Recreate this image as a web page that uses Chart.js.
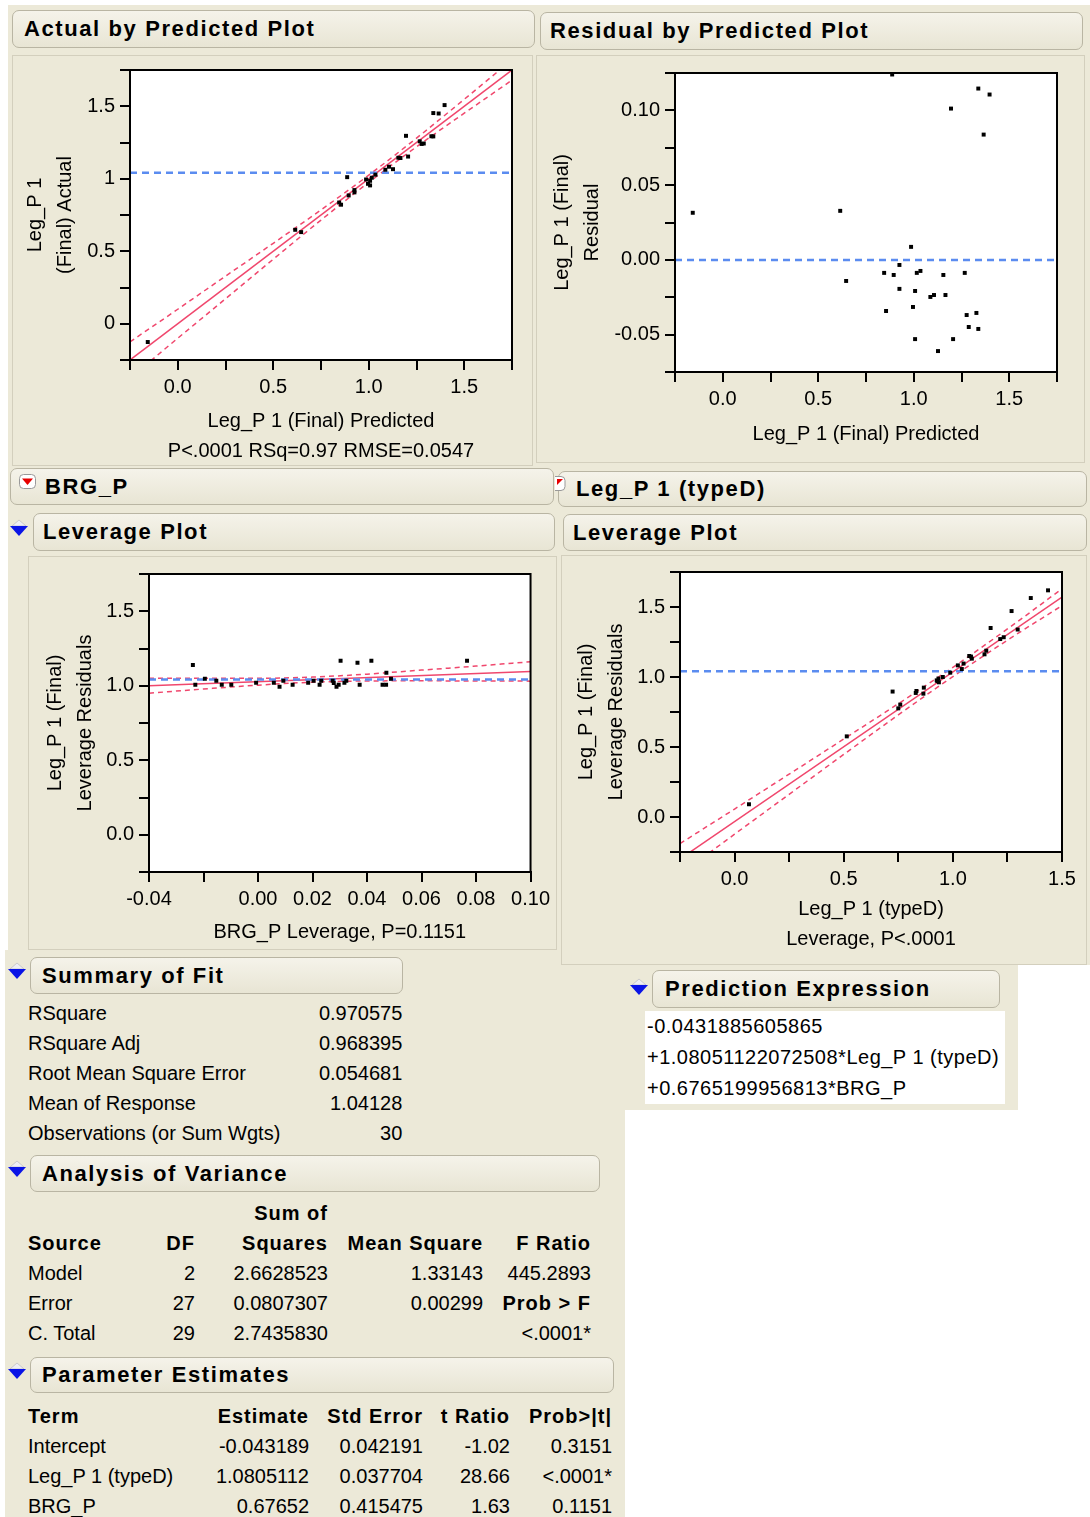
<!DOCTYPE html>
<html>
<head>
<meta charset="utf-8">
<script src="https://cdn.jsdelivr.net/npm/chart.js@4.4.1/dist/chart.umd.min.js"></script>
<style>
  body { margin: 0; width: 1090px; height: 1517px; background: #fff; position: relative; overflow: hidden;
         font-family: "Liberation Sans", Arial, sans-serif; color: #000; }
  .bg { position: absolute; background: #ece9d8; }
  .frame { position: absolute; box-sizing: border-box; border: 1px solid #d3cfbd; background: #ece9d8; }
  .hdr { position: absolute; box-sizing: border-box; border: 1px solid #b9b5a3; border-radius: 7px;
         background: linear-gradient(#f5f3ea, #e8e5d4); font-weight: bold; font-size: 22px; letter-spacing: 1.6px;
         white-space: nowrap; overflow: hidden; }
  .hdr span { position: absolute; top: 50%; transform: translateY(-50%); }
  .ico { position: absolute; }
  canvas { position: absolute; }
  table { position: absolute; border-collapse: collapse; font-size: 20px; table-layout: fixed; }
  td { height: 30px; padding: 0; white-space: nowrap; text-align: right; }
  td.l { text-align: left; }
  tr.b td, td.b { font-weight: bold; letter-spacing: 1px; }
  .expr { position: absolute; left: 645px; top: 1011px; width: 360px; height: 93px; background: #fff;
          font-size: 20px; line-height: 31px; white-space: nowrap; letter-spacing: 0.5px; }
  .expr div { padding-left: 2px; }
</style>
</head>
<body>

<div class="bg" style="left:8px; top:5px; width:1082px; height:960px"></div>
<div class="bg" style="left:5px; top:950px; width:620px; height:567px"></div>
<div class="bg" style="left:625px; top:965px; width:393px; height:145px"></div>

<div class="frame" style="left:12px; top:55px; width:521px; height:411px"></div>
<div class="frame" style="left:536px; top:55px; width:549px; height:408px"></div>
<div class="frame" style="left:28px; top:556px; width:529px; height:394px"></div>
<div class="frame" style="left:561px; top:555px; width:526px; height:410px"></div>

<div class="hdr" style="left:12px; top:10px; width:523px; height:38px"><span style="left:11px">Actual by Predicted Plot</span></div>
<div class="hdr" style="left:540px; top:12px; width:543px; height:38px"><span style="left:9px">Residual by Predicted Plot</span></div>
<div class="hdr" style="left:10px; top:468px; width:544px; height:37px"><span style="left:34px">BRG_P</span></div>
<div class="hdr" style="left:558px; top:471px; width:529px; height:36px"><span style="left:17px">Leg_P 1 (typeD)</span></div>
<div class="hdr" style="left:33px; top:513px; width:522px; height:38px"><span style="left:9px">Leverage Plot</span></div>
<div class="hdr" style="left:563px; top:514px; width:524px; height:37px"><span style="left:9px">Leverage Plot</span></div>
<div class="hdr" style="left:30px; top:957px; width:373px; height:37px"><span style="left:11px">Summary of Fit</span></div>
<div class="hdr" style="left:652px; top:970px; width:348px; height:38px"><span style="left:12px">Prediction Expression</span></div>
<div class="hdr" style="left:30px; top:1155px; width:570px; height:37px"><span style="left:11px">Analysis of Variance</span></div>
<div class="hdr" style="left:30px; top:1357px; width:584px; height:36px"><span style="left:11px">Parameter Estimates</span></div>

<!-- disclosure icons -->
<svg class="ico" style="left:19px; top:474px" width="18" height="16"><rect x="0.5" y="0.5" width="16" height="14" rx="4" fill="#fff" stroke="#999"/><path d="M3 4.5 H14 L8.5 11Z" fill="#e80000"/></svg>
<svg class="ico" style="left:555px; top:476px" width="12" height="16"><rect x="-6" y="0.5" width="16" height="14" rx="4" fill="#fff" stroke="#999"/><path d="M2 3 H8 L2 9Z" fill="#e80000"/></svg>
<svg class="ico" style="left:9px; top:518px" width="20" height="20"><path d="M10 2 L17 8 H3Z" fill="#eeeef4" stroke="#b0b0b8" stroke-width="0.6"/><path d="M1 8 H19 L10 18Z" fill="#0a14e6"/></svg>
<svg class="ico" style="left:7px; top:961px" width="20" height="20"><path d="M10 2 L17 8 H3Z" fill="#eeeef4" stroke="#b0b0b8" stroke-width="0.6"/><path d="M1 8 H19 L10 18Z" fill="#0a14e6"/></svg>
<svg class="ico" style="left:629px; top:977px" width="20" height="20"><path d="M10 2 L17 8 H3Z" fill="#eeeef4" stroke="#b0b0b8" stroke-width="0.6"/><path d="M1 8 H19 L10 18Z" fill="#0a14e6"/></svg>
<svg class="ico" style="left:7px; top:1159px" width="20" height="20"><path d="M10 2 L17 8 H3Z" fill="#eeeef4" stroke="#b0b0b8" stroke-width="0.6"/><path d="M1 8 H19 L10 18Z" fill="#0a14e6"/></svg>
<svg class="ico" style="left:7px; top:1361px" width="20" height="20"><path d="M10 2 L17 8 H3Z" fill="#eeeef4" stroke="#b0b0b8" stroke-width="0.6"/><path d="M1 8 H19 L10 18Z" fill="#0a14e6"/></svg>

<canvas id="actPred" width="517" height="417" style="left:14px; top:53px"></canvas>
<canvas id="residPred" width="540" height="399" style="left:540px; top:56px"></canvas>
<canvas id="brgLev" width="525" height="393" style="left:30px; top:557px"></canvas>
<canvas id="legLev" width="524" height="407" style="left:562px; top:555px"></canvas>

<table style="left:28px; top:998px">
  <col style="width:250px"><col style="width:122px">
  <tr><td class="l">RSquare</td><td>0.970575</td></tr>
  <tr><td class="l">RSquare Adj</td><td>0.968395</td></tr>
  <tr><td class="l">Root Mean Square Error</td><td>0.054681</td></tr>
  <tr><td class="l">Mean of Response</td><td>1.04128</td></tr>
  <tr><td class="l">Observations (or Sum Wgts)</td><td>30</td></tr>
</table>

<div class="expr">
  <div>-0.0431885605865</div>
  <div>+1.08051122072508*Leg_P 1 (typeD)</div>
  <div>+0.6765199956813*BRG_P</div>
</div>

<table style="left:28px; top:1198px">
  <col style="width:122px"><col style="width:45px"><col style="width:133px"><col style="width:155px"><col style="width:108px">
  <tr class="b"><td></td><td></td><td>Sum of</td><td></td><td></td></tr>
  <tr class="b"><td class="l">Source</td><td>DF</td><td>Squares</td><td>Mean Square</td><td>F Ratio</td></tr>
  <tr><td class="l">Model</td><td>2</td><td>2.6628523</td><td>1.33143</td><td>445.2893</td></tr>
  <tr><td class="l">Error</td><td>27</td><td>0.0807307</td><td>0.00299</td><td class="b">Prob &gt; F</td></tr>
  <tr><td class="l">C. Total</td><td>29</td><td>2.7435830</td><td></td><td>&lt;.0001*</td></tr>
</table>

<table style="left:28px; top:1401px">
  <col style="width:172px"><col style="width:109px"><col style="width:114px"><col style="width:87px"><col style="width:102px">
  <tr class="b"><td class="l">Term</td><td>Estimate</td><td>Std Error</td><td>t Ratio</td><td>Prob&gt;|t|</td></tr>
  <tr><td class="l">Intercept</td><td>-0.043189</td><td>0.042191</td><td>-1.02</td><td>0.3151</td></tr>
  <tr><td class="l">Leg_P 1 (typeD)</td><td>1.0805112</td><td>0.037704</td><td>28.66</td><td>&lt;.0001*</td></tr>
  <tr><td class="l">BRG_P</td><td>0.67652</td><td>0.415475</td><td>1.63</td><td>0.1151</td></tr>
</table>

<script>
const FONT = '"Liberation Sans", Arial, sans-serif';
const meanResponse = 1.04128;

// whole-model fit: predicted values and residuals (actual = predicted + residual)
const predicted = [-0.157, 0.615, 0.646, 0.887, 0.845, 0.895, 0.855, 0.925, 0.925, 0.986,
  0.996, 1.007, 1.016, 1.035, 1.007, 1.087, 1.106, 1.127, 1.155, 1.166,
  1.195, 1.206, 1.267, 1.277, 1.288, 1.328, 1.338, 1.338, 1.366, 1.397];
const residual = [0.0315, 0.0328, -0.0141, 0.124, -0.0087, -0.0101, -0.0342, -0.0034, -0.0194, 0.0087,
  -0.0315, -0.0208, -0.0087, -0.0074, -0.053, -0.0248, -0.0235, -0.061, -0.0101, -0.0235,
  0.1012, -0.053, -0.0087, -0.0369, -0.0449, -0.0355, -0.0462, 0.1146, 0.0838, 0.1106];
const actual = [-0.126, 0.648, 0.632, 1.011, 0.836, 0.885, 0.821, 0.922, 0.906, 0.995,
  0.965, 0.986, 1.007, 1.028, 0.954, 1.062, 1.083, 1.066, 1.145, 1.143,
  1.296, 1.153, 1.258, 1.240, 1.243, 1.293, 1.292, 1.453, 1.450, 1.508];

// fit line and confidence curves, actual by predicted
const actFitX = [-0.25, 1.75];
const actFitY = [-0.25, 1.75];
const actCurveX = [-0.25, 0, 0.25, 0.5, 0.75, 1.0, 1.25, 1.5, 1.75];
const actUpper = [-0.125, 0.10, 0.328, 0.555, 0.785, 1.025, 1.28, 1.548, 1.82];
const actLower = [-0.375, -0.10, 0.172, 0.445, 0.715, 0.975, 1.22, 1.452, 1.68];

// BRG_P leverage plot
const brgLevX = [-0.0239, -0.023, -0.0195, -0.0153, -0.0133, -0.0098, -0.0007, 0.0058, 0.0079, 0.0093,
  0.0127, 0.0184, 0.0204, 0.0226, 0.0232, 0.0274, 0.0288, 0.0296, 0.0303, 0.0317,
  0.0324, 0.0365, 0.0373, 0.0416, 0.0457, 0.047, 0.0471, 0.0488, 0.0767, 0.0278];
const brgLevY = [1.139, 1.007, 1.047, 1.034, 1.007, 1.007, 1.020, 1.020, 0.993, 1.034,
  1.007, 1.020, 1.034, 1.007, 1.034, 1.034, 0.993, 1.007, 1.168, 1.020,
  1.034, 1.155, 1.007, 1.168, 1.007, 1.007, 1.087, 1.047, 1.168, 1.018];
const brgFitX = [-0.04, 0.10];
const brgFitY = [1.0, 1.096];
const brgCurveX = [-0.04, -0.02, 0, 0.02, 0.04, 0.06, 0.08, 0.10];
const brgUpper = [1.05, 1.05, 1.05, 1.058, 1.078, 1.105, 1.132, 1.161];
const brgLower = [0.95, 0.978, 1.004, 1.024, 1.032, 1.033, 1.032, 1.031];

// Leg_P 1 (typeD) leverage plot
const legLevX = [0.066, 0.514, 0.724, 0.750, 0.759, 0.830, 0.865, 0.867, 0.926, 0.936,
  0.954, 0.988, 1.023, 1.041, 1.049, 1.075, 1.087, 1.145, 1.153, 1.173,
  1.217, 1.233, 1.269, 1.297, 1.357, 1.436, 0.934, 0.833, 0.929, 1.083];
const legLevY = [0.091, 0.576, 0.896, 0.776, 0.803, 0.886, 0.881, 0.924, 0.976, 0.962,
  1.0, 1.031, 1.083, 1.057, 1.096, 1.150, 1.131, 1.162, 1.188, 1.350,
  1.271, 1.284, 1.471, 1.339, 1.564, 1.619, 0.989, 0.90, 0.971, 1.146];
const legFitX = [-0.25, 1.5];
const legFitY = [-0.30, 1.57];
const legCurveX = [-0.25, 0, 0.25, 0.5, 0.75, 1.0, 1.25, 1.5];
const legUpper = [-0.19, 0.057, 0.306, 0.557, 0.809, 1.069, 1.343, 1.63];
const legLower = [-0.41, -0.123, 0.162, 0.447, 0.729, 1.003, 1.263, 1.51];

const RED = '#f0476d';
const BLUE = '#5b8cf0';

function xy(xs, ys) {
  return xs.map((x, i) => ({ x: x, y: ys[i] }));
}

// white plot area with a black box around it
const plotFrame = {
  id: 'plotFrame',
  beforeDatasetsDraw(chart) {
    const { ctx, chartArea: a } = chart;
    ctx.save();
    ctx.fillStyle = '#fff';
    ctx.fillRect(a.left, a.top, a.right - a.left, a.bottom - a.top);
    ctx.restore();
  },
  afterDatasetsDraw(chart) {
    const { ctx, chartArea: a } = chart;
    ctx.save();
    ctx.strokeStyle = '#000';
    ctx.lineWidth = 2;
    ctx.strokeRect(a.left, a.top, a.right - a.left, a.bottom - a.top);
    ctx.restore();
  }
};

function onStep(v, step) {
  return Math.abs(Math.round(v / step) * step - v) < 1e-9;
}

function axis(min, max, stepSize, label, title, size, titlePad) {
  return {
    type: 'linear',
    min: min,
    max: max,
    afterFit: function (s) {
      if (s.isHorizontal()) s.height = size; else s.width = size;
    },
    ticks: { stepSize: stepSize, autoSkip: false, maxRotation: 0, padding: 5, color: '#000',
             font: { size: 20, family: FONT }, callback: label },
    grid: { drawOnChartArea: false, color: '#000', tickLength: 10, lineWidth: 2 },
    border: { color: '#000', width: 2 },
    title: { display: true, text: title, color: '#000', padding: titlePad,
             font: { size: 20, family: FONT, lineHeight: 1.5 } }
  };
}

function plot(id, p) {
  const line = (data, color, width, dash) => ({
    data: data, showLine: true, borderColor: color, borderWidth: width, borderDash: dash,
    pointRadius: 0, fill: false, tension: 0.4, cubicInterpolationMode: 'monotone'
  });
  new Chart(document.getElementById(id), {
    type: 'scatter',
    data: {
      datasets: [
        { data: p.points, pointStyle: 'rect', pointRadius: 2.8, backgroundColor: '#000', borderWidth: 0 },
        line(p.mean, BLUE, 2.5, [7, 5]),
        line(p.fit, RED, 1.5, []),
        line(p.upper, RED, 1.5, [5, 4]),
        line(p.lower, RED, 1.5, [5, 4])
      ]
    },
    options: {
      responsive: false,
      animation: false,
      events: [],
      layout: { padding: p.pad },
      plugins: { legend: { display: false }, tooltip: { enabled: false } },
      scales: { x: p.x, y: p.y }
    },
    plugins: [plotFrame]
  });
}

const half = v => onStep(v, 0.5) ? v.toFixed(1) : '';

plot('actPred', {
  points: xy(predicted, actual),
  mean: xy([-0.25, 1.75], [meanResponse, meanResponse]),
  fit: xy(actFitX, actFitY),
  upper: xy(actCurveX, actUpper),
  lower: xy(actCurveX, actLower),
  pad: { top: 0, right: 19, left: 0, bottom: 0 },
  x: axis(-0.25, 1.75, 0.25, half, ['Leg_P 1 (Final) Predicted', 'P<.0001 RSq=0.97 RMSE=0.0547'], 110, { bottom: 4 }),
  y: axis(-0.25, 1.75, 0.25, v => onStep(v, 0.5) ? String(Math.round(v * 10) / 10) : '',
          ['Leg_P 1', '(Final) Actual'], 116, { top: 6 })
});

plot('residPred', {
  points: xy(predicted, residual),
  mean: xy([-0.25, 1.75], [0, 0]),
  fit: [], upper: [], lower: [],
  pad: { top: 0, right: 23, left: 0, bottom: 0 },
  x: axis(-0.25, 1.75, 0.25, half, 'Leg_P 1 (Final) Predicted', 83, { bottom: 6 }),
  y: axis(-0.075, 0.125, 0.025, v => onStep(v, 0.05) ? (Math.round(v / 0.05) * 0.05).toFixed(2) : '',
          ['Leg_P 1 (Final)', 'Residual'], 135, { top: 7 })
});

plot('brgLev', {
  points: xy(brgLevX, brgLevY),
  mean: xy([-0.04, 0.10], [meanResponse, meanResponse]),
  fit: xy(brgFitX, brgFitY),
  upper: xy(brgCurveX, brgUpper),
  lower: xy(brgCurveX, brgLower),
  pad: { top: 0, right: 23, left: 0, bottom: 0 },
  x: axis(-0.04, 0.10, 0.02, v => Math.abs(v + 0.02) < 1e-9 ? '' : (Math.round(v * 100) / 100).toFixed(2),
          'BRG_P Leverage, P=0.1151', 78, { bottom: 3 }),
  y: axis(-0.25, 1.75, 0.25, half, ['Leg_P 1 (Final)', 'Leverage Residuals'], 119, { top: 10 })
});

plot('legLev', {
  points: xy(legLevX, legLevY),
  mean: xy([-0.25, 1.5], [meanResponse, meanResponse]),
  fit: xy(legFitX, legFitY),
  upper: xy(legCurveX, legUpper),
  lower: xy(legCurveX, legLower),
  pad: { top: 0, right: 24, left: 0, bottom: 0 },
  x: axis(-0.25, 1.5, 0.25, half, ['Leg_P 1 (typeD)', 'Leverage, P<.0001'], 110, { bottom: 8 }),
  y: axis(-0.25, 1.75, 0.25, half, ['Leg_P 1 (Final)', 'Leverage Residuals'], 118, { top: 9 })
});
</script>
</body>
</html>
